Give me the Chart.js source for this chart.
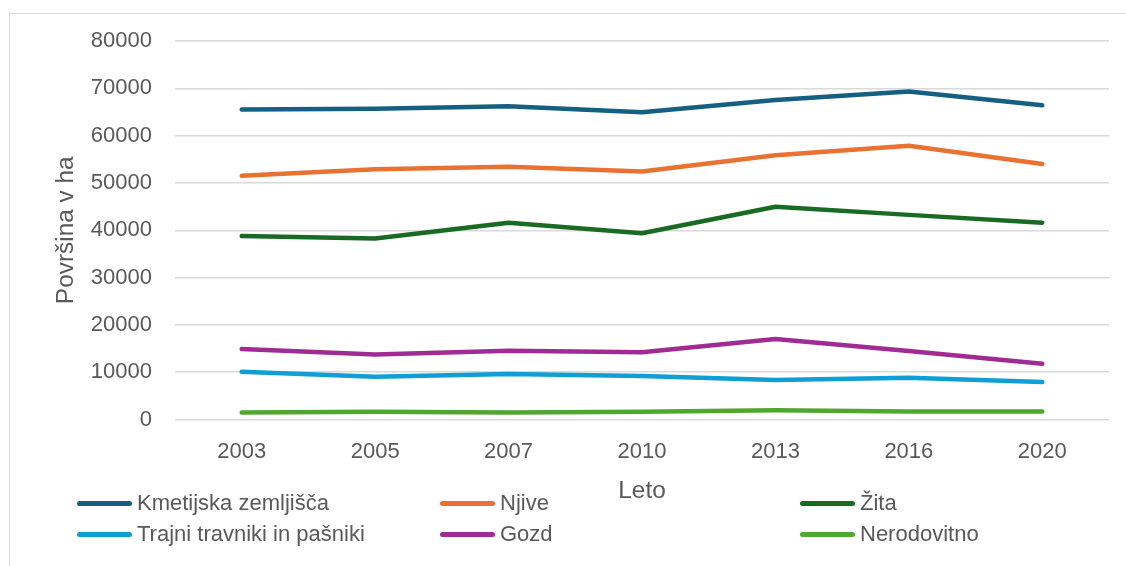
<!DOCTYPE html>
<html>
<head>
<meta charset="utf-8">
<script src="https://cdn.jsdelivr.net/npm/chart.js@4.4.1/dist/chart.umd.min.js"></script>
<style>
  html, body { margin: 0; padding: 0; background: #ffffff; }
  #wrap { position: relative; width: 1126px; height: 566px; overflow: hidden; }
  #frame { position: absolute; left: 9px; top: 13px; width: 1140px; height: 580px; border: 1px solid #d9d9d9; box-sizing: border-box; }
  canvas { position: absolute; left: 0; top: 0; }
  .lg { position: absolute; height: 24px; display: flex; align-items: center; font-family: "Liberation Sans", Arial, sans-serif; font-size: 22px; color: #595959; white-space: nowrap; }
  .lg .sw { width: 55px; height: 5px; border-radius: 3px; margin-right: 5px; }
</style>
</head>
<body>
<div id="wrap">
  <div id="frame"></div>
  <canvas id="c" width="1126" height="566"></canvas>
  <div id="legend"></div>
</div>
<script>
const categories = ["2003", "2005", "2007", "2010", "2013", "2016", "2020"];
const seriesNames = ["Kmetijska zemljišča", "Njive", "Žita", "Trajni travniki in pašniki", "Gozd", "Nerodovitno"];
const kmetijska = [65500, 65700, 66200, 64950, 67550, 69350, 66400];
const njive = [51500, 52900, 53400, 52400, 55850, 57850, 54000];
const zita = [38800, 38250, 41600, 39350, 44950, 43250, 41600];
const trajni = [10100, 9050, 9600, 9200, 8350, 8850, 7900];
const gozd = [14900, 13750, 14550, 14200, 17000, 14500, 11800];
const nerodovitno = [1500, 1650, 1500, 1650, 1950, 1700, 1700];
const colors = ["#156082", "#E97132", "#196B24", "#0F9ED5", "#A02B93", "#4EA72E"];
const yTitle = "Površina v ha";
const xTitle = "Leto";

const seriesValues = [kmetijska, njive, zita, trajni, gozd, nerodovitno];
const FONT = "'Liberation Sans', Arial, sans-serif";

const chart = new Chart(document.getElementById('c'), {
  type: 'line',
  data: {
    labels: categories,
    datasets: seriesNames.map((n, i) => ({
      label: n,
      data: seriesValues[i],
      borderColor: colors[i],
      backgroundColor: colors[i],
      borderWidth: 4.5,
      borderCapStyle: 'round',
      borderJoinStyle: 'round',
      pointRadius: 0,
      tension: 0,
      fill: false
    }))
  },
  options: {
    responsive: false,
    animation: false,
    layout: { padding: { top: 41, right: 17, bottom: 0, left: 0 } },
    plugins: { legend: { display: false }, tooltip: { enabled: false } },
    scales: {
      x: {
        offset: true,
        grid: { display: false, drawTicks: false },
        border: { display: false },
        ticks: { color: '#595959', font: { family: FONT, size: 22 }, padding: 19, maxRotation: 0 },
        title: { display: true, text: xTitle, color: '#595959', font: { family: FONT, size: 24.4 }, padding: { top: 0, bottom: 60 } },
        afterFit: s => { s.height = 146.5; }
      },
      y: {
        min: 0, max: 80000,
        ticks: { stepSize: 10000, color: '#595959', font: { family: FONT, size: 22 }, padding: 23, callback: v => String(v) },
        grid: { color: '#d9d9d9', lineWidth: 1.5, drawTicks: false },
        border: { display: false },
        title: { display: true, text: yTitle, color: '#595959', font: { family: FONT, size: 24.4 }, padding: { top: 52, bottom: 0 } },
        afterFit: s => { s.width = 175; }
      }
    }
  }
});

// Legend built from the series arrays
const legendPos = [
  { x: 77, y: 503 }, { x: 440, y: 503 }, { x: 800, y: 503 },
  { x: 77, y: 534 }, { x: 440, y: 534 }, { x: 800, y: 534 }
];
const lg = document.getElementById('legend');
seriesNames.forEach((n, i) => {
  const d = document.createElement('div');
  d.className = 'lg';
  d.style.left = legendPos[i].x + 'px';
  d.style.top = (legendPos[i].y - 12) + 'px';
  const sw = document.createElement('span');
  sw.className = 'sw';
  sw.style.background = colors[i];
  const t = document.createElement('span');
  t.textContent = n;
  d.appendChild(sw); d.appendChild(t);
  lg.appendChild(d);
});
</script>
</body>
</html>
